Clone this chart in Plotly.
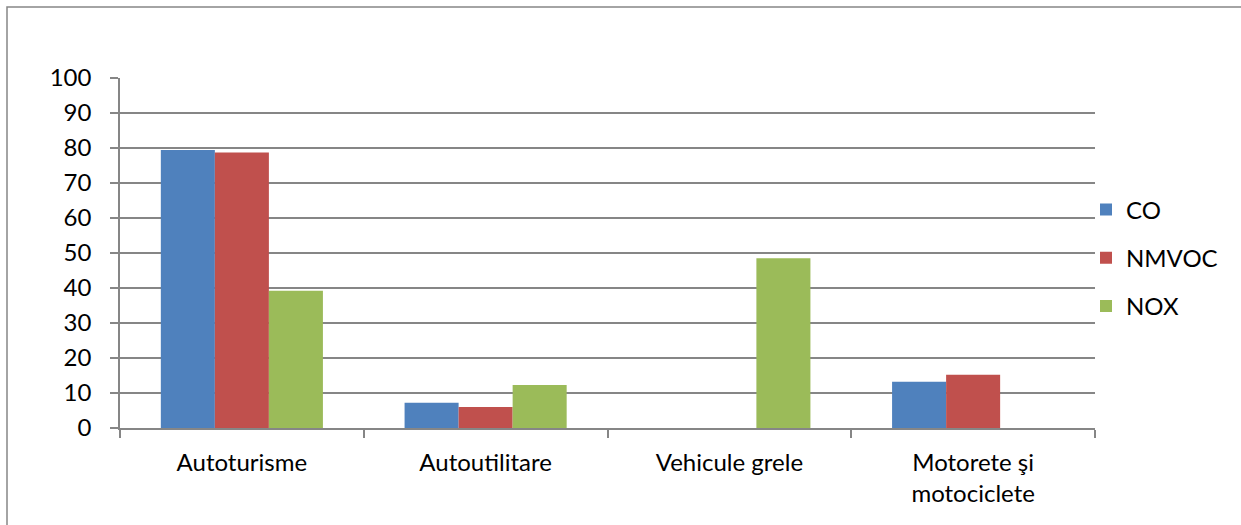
import plotly.graph_objects as go

categories = ["Autoturisme", "Autoutilitare", "Vehicule grele", "Motorete şi<br>motociclete"]
co = [79.4, 7.2, 0, 13.2]
nmvoc = [78.7, 6.0, 0, 15.2]
nox = [39.2, 12.3, 48.5, 0]
series_names = ["CO", "NMVOC", "NOX"]
colors = ["#4F81BD", "#C0504D", "#9BBB59"]
y_ticks = list(range(0, 101, 10))

W, H = 1241, 525
L, R, T, B = 120, 146, 78, 97
FONT = "Lato"
GRID = "#868686"
FS = 24

fig = go.Figure()
for name, vals, col in zip(series_names, [co, nmvoc, nox], colors):
    fig.add_trace(go.Bar(
        x=categories, y=vals, name=name, legendgroup=name,
        marker=dict(color=col, line=dict(width=0)),
    ))

fig.update_layout(
    width=W, height=H,
    margin=dict(l=L, r=R, t=T, b=B, autoexpand=False),
    paper_bgcolor="white", plot_bgcolor="white",
    font=dict(family=FONT, size=FS, color="#000000"),
    barmode="group", bargap=0.335, bargroupgap=0,
    showlegend=True,
    legend=dict(
        x=(1086 - L) / (W - L - R), xanchor="left",
        y=(H - B - 258) / (H - T - B), yanchor="middle",
        font=dict(family=FONT, size=FS, color="#000000"),
        tracegroupgap=14, itemwidth=30,
        bgcolor="rgba(0,0,0,0)",
    ),
    xaxis=dict(
        type="category", showgrid=False, showline=True, linecolor=GRID, linewidth=1.5,
        ticks="outside", tickson="boundaries", ticklen=8, tickcolor=GRID, tickwidth=1.5,
        tickfont=dict(family=FONT, size=FS, color="#000000"),
        ticklabelstandoff=12,
        fixedrange=True, range=[-0.5, 3.5],
    ),
    yaxis=dict(
        range=[0, 100], tickvals=y_ticks, showgrid=True, gridcolor=GRID, gridwidth=1.5,
        showline=True, linecolor=GRID, linewidth=1.5,
        ticks="outside", ticklen=8, tickcolor=GRID, tickwidth=1.5,
        tickfont=dict(family=FONT, size=FS, color="#000000"),
        ticklabelstandoff=14,
        zeroline=False, fixedrange=True,
    ),
    shapes=[
        dict(type="rect", xref="paper", yref="paper",
             x0=(7 - L) / (W - L - R), x1=(W + 20 - L) / (W - L - R),
             y0=-0.5, y1=(H - B - 7) / (H - T - B),
             line=dict(color=GRID, width=1.5), fillcolor="rgba(0,0,0,0)", layer="below"),
    ],
)

fig.write_html("out.html", config={"displayModeBar": False},
               post_script="document.body.style.margin='0';")
